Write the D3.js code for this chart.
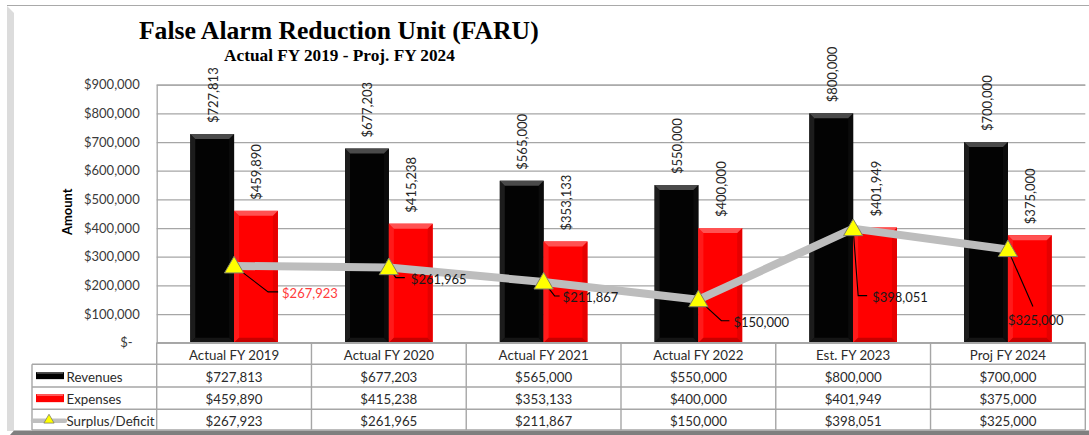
<!DOCTYPE html>
<html>
<head>
<meta charset="utf-8">
<script src="https://cdn.jsdelivr.net/npm/d3@7"></script>
<style>
  html, body { margin: 0; padding: 0; background: #fff; }
  svg { display: block; }
  text { font-family: Lato, "Noto Sans", sans-serif; }
</style>
</head>
<body>
<svg id="chart" width="1089" height="435"></svg>
<script>
// ---------- data ----------
const categories = ["Actual FY 2019", "Actual FY 2020", "Actual FY 2021", "Actual FY 2022", "Est. FY 2023", "Proj FY 2024"];
const revenues = [727813, 677203, 565000, 550000, 800000, 700000];
const expenses = [459890, 415238, 353133, 400000, 401949, 375000];
const surplus = [267923, 261965, 211867, 150000, 398051, 325000];
const seriesNames = ["Revenues", "Expenses", "Surplus/Deficit"];
const yTicks = [0, 100000, 200000, 300000, 400000, 500000, 600000, 700000, 800000, 900000];
const titleText = "False Alarm Reduction Unit (FARU)";
const subtitleText = "Actual FY 2019 - Proj. FY 2024";
const yAxisTitle = "Amount";

// label placement (offsets from the point, px): [label dx, label dy]
const surplusLabelOffsets = [[48, 27], [22, 11], [19, 15], [35, 22], [19, 68], [0, 70]];
// leader elbows: [elbow dx, elbow dy, end dx]
const surplusLeaders = [[34, 26, 44], [7, 10, 16], [11, 14, 16], [23, 21, 31], [5, 67, 14], [25, 57, 25]];
const surplusLabelColors = ["#ff3b3b", "#1a1a1a", "#1a1a1a", "#1a1a1a", "#1a1a1a", "#1a1a1a"];

// ---------- layout ----------
const plotLeft = 156.7, plotRight = 1085.3, plotTop = 84.7, plotBottom = 342.7;
const rowLines = [342.7, 364.3, 387, 409.3, 430];
const legendLeft = 32;
const halfBar = 43.8;

const svg = d3.select("#chart");
const fmt = d3.format("$,");

const x = d3.scaleBand().domain(categories).range([plotLeft, plotRight]).padding(0);
const y = d3.scaleLinear().domain([0, 900000]).range([plotBottom, plotTop]);
const xs = d3.scaleBand().domain(["Revenues", "Expenses"]);

// ---------- outer frame ----------
svg.append("line").attr("x1", 7).attr("x2", 1089).attr("y1", 5.5).attr("y2", 5.5)
  .attr("stroke", "#a9a9a9").attr("stroke-width", 1.2);
svg.append("polygon").attr("points", "7,6 14,13 14,431 7,431").attr("fill", "#dcdcdc");
svg.append("polygon").attr("points", "10,435 14,430.5 1089,430.5 1089,435").attr("fill", "#7f7f7f");

// ---------- title ----------
function fitText(sel, target) {
  const w = sel.node().getComputedTextLength();
  const fs = parseFloat(sel.attr("font-size"));
  sel.attr("font-size", fs * target / w);
}
const t1 = svg.append("text").attr("x", 338.8).attr("y", 39.3).attr("text-anchor", "middle")
  .attr("font-weight", "bold").attr("font-size", 24).attr("fill", "#000")
  .style("font-family", "'Liberation Serif', serif").text(titleText);
fitText(t1, 400);
const t2 = svg.append("text").attr("x", 339.5).attr("y", 61).attr("text-anchor", "middle")
  .attr("font-weight", "bold").attr("font-size", 16).attr("fill", "#000")
  .style("font-family", "'Liberation Serif', serif").text(subtitleText);
fitText(t2, 231);

// ---------- grid + y axis ----------
const yAxis = d3.axisLeft(y).tickValues(yTicks).tickSize(-(plotRight - plotLeft)).tickPadding(17)
  .tickFormat(d => d === 0 ? "$-" : fmt(d));
const gy = svg.append("g").attr("transform", `translate(${plotLeft},0)`).call(yAxis);
gy.select(".domain").attr("stroke", "#a6a6a6").attr("stroke-width", 1.3);
gy.selectAll(".tick line").attr("stroke", "#a6a6a6").attr("stroke-width", 1.3);
gy.selectAll(".tick text").attr("font-size", 13).attr("fill", "#3a3a3a")
  .style("font-family", "Lato, sans-serif")
  .attr("dx", d => d === 0 ? -7 : 0);

svg.append("text").attr("transform", `translate(72,${(plotTop + plotBottom) / 2 - 2}) rotate(-90)`)
  .attr("text-anchor", "middle").attr("font-size", 13).attr("font-weight", "bold").attr("fill", "#000")
  .text(yAxisTitle);

// ---------- bars with bevel ----------
const palettes = {
  Revenues: { main: "#030303", top: "#4a4a4a", left: "#1c1c1c", right: "#0b0b0b", bottom: "#151515" },
  Expenses: { main: "#ff0000", top: "#ff5252", left: "#ff1a1a", right: "#e60000", bottom: "#c80000" }
};
function bevelBar(g, x0, x1, y0, y1, p) {
  const b = 5;
  g.append("rect").attr("x", x0).attr("y", y0).attr("width", x1 - x0).attr("height", y1 - y0).attr("fill", p.main);
  g.append("polygon").attr("points", `${x0},${y0} ${x0 + b},${y0 + b} ${x0 + b},${y1 - b} ${x0},${y1}`).attr("fill", p.left);
  g.append("polygon").attr("points", `${x1},${y0} ${x1 - b},${y0 + b} ${x1 - b},${y1 - b} ${x1},${y1}`).attr("fill", p.right);
  g.append("polygon").attr("points", `${x0},${y1} ${x0 + b},${y1 - b} ${x1 - b},${y1 - b} ${x1},${y1}`).attr("fill", p.bottom);
  g.append("polygon").attr("points", `${x0},${y0} ${x1},${y0} ${x1 - b},${y0 + b} ${x0 + b},${y0 + b}`).attr("fill", p.top);
}
const barData = [];
categories.forEach((c, i) => {
  barData.push({ cat: c, s: "Revenues", v: revenues[i] });
  barData.push({ cat: c, s: "Expenses", v: expenses[i] });
});
const gBars = svg.append("g");
barData.forEach(d => {
  const cx = x(d.cat) + x.bandwidth() / 2;
  xs.range([cx - halfBar, cx + halfBar]);
  const x0 = xs(d.s), x1 = x0 + xs.bandwidth();
  bevelBar(gBars.append("g"), x0, x1, y(d.v), y(0), palettes[d.s]);
});

// ---------- surplus line ----------
const cxOf = i => x(categories[i]) + x.bandwidth() / 2;
const line = d3.line().x((d, i) => cxOf(i)).y(d => y(d));
svg.append("path").datum(surplus).attr("d", line).attr("fill", "none")
  .attr("stroke", "#bdbdbd").attr("stroke-width", 8).attr("stroke-linejoin", "round");

// leaders
surplus.forEach((v, i) => {
  const px = cxOf(i), py = y(v), L = surplusLeaders[i];
  svg.append("path").attr("d", `M${px},${py} L${px + L[0]},${py + L[1]} L${px + L[2]},${py + L[1]}`)
    .attr("fill", "none").attr("stroke", "#000").attr("stroke-width", 1.1);
});

// markers
const tri = d3.symbol().type(d3.symbolTriangle).size(160);
surplus.forEach((v, i) => {
  svg.append("path").attr("d", tri()).attr("transform", `translate(${cxOf(i)},${y(v) + 1.5})`)
    .attr("fill", "#ffff00").attr("stroke", "#7f7f66").attr("stroke-width", 1);
});

// ---------- bar value labels ----------
barData.forEach(d => {
  const cx = x(d.cat) + x.bandwidth() / 2;
  xs.range([cx - halfBar, cx + halfBar]);
  const lx = xs(d.s) + xs.bandwidth() / 2 + 0.5;
  const ly = y(d.v) - 11;
  svg.append("text").attr("transform", `translate(${lx},${ly}) rotate(-90)`)
    .attr("dominant-baseline", "central").attr("font-size", 13).attr("fill", "#262626")
    .text(fmt(d.v));
});

// ---------- surplus labels ----------
surplus.forEach((v, i) => {
  const o = surplusLabelOffsets[i];
  svg.append("text").attr("x", cxOf(i) + o[0]).attr("y", y(v) + o[1])
    .attr("dominant-baseline", "central").attr("font-size", 13).attr("fill", surplusLabelColors[i])
    .text(fmt(v));
});

// ---------- data table ----------
const gT = svg.append("g");
const tStroke = "#a6a6a6";
gT.append("line").attr("x1", plotLeft).attr("x2", plotRight).attr("y1", rowLines[0]).attr("y2", rowLines[0])
  .attr("stroke", tStroke).attr("stroke-width", 1.4);
rowLines.slice(1).forEach(ry => {
  gT.append("line").attr("x1", legendLeft).attr("x2", plotRight).attr("y1", ry).attr("y2", ry)
    .attr("stroke", tStroke).attr("stroke-width", 1.4);
});
gT.append("line").attr("x1", legendLeft).attr("x2", legendLeft).attr("y1", rowLines[1]).attr("y2", rowLines[4])
  .attr("stroke", tStroke).attr("stroke-width", 1.4);
categories.concat([null]).forEach(c => {
  const vx = c ? x(c) : plotRight;
  gT.append("line").attr("x1", vx).attr("x2", vx).attr("y1", rowLines[0]).attr("y2", rowLines[4])
    .attr("stroke", tStroke).attr("stroke-width", 1.4);
});
categories.forEach(c => {
  gT.append("text").attr("x", x(c) + x.bandwidth() / 2).attr("y", (rowLines[0] + rowLines[1]) / 2 + 1)
    .attr("text-anchor", "middle").attr("dominant-baseline", "central")
    .attr("font-size", 13.3).attr("fill", "#2b2b2b").text(c);
});
const tableSeries = [revenues, expenses, surplus];
tableSeries.forEach((arr, r) => {
  const cy = (rowLines[r + 1] + rowLines[r + 2]) / 2 + 1;
  arr.forEach((v, i) => {
    gT.append("text").attr("x", cxOf(i)).attr("y", cy).attr("text-anchor", "middle")
      .attr("dominant-baseline", "central").attr("font-size", 13.3).attr("fill", "#2b2b2b").text(fmt(v));
  });
  gT.append("text").attr("x", 66.5).attr("y", cy).attr("dominant-baseline", "central")
    .attr("font-size", 13.3).attr("fill", "#2b2b2b").text(seriesNames[r]);
});
(function () {
  const r0 = (rowLines[1] + rowLines[2]) / 2, r1 = (rowLines[2] + rowLines[3]) / 2, r2 = (rowLines[3] + rowLines[4]) / 2;
  gT.append("rect").attr("x", 36).attr("y", r0 - 3.5).attr("width", 28).attr("height", 7).attr("fill", "#000");
  gT.append("rect").attr("x", 37).attr("y", r0 - 3.5).attr("width", 26).attr("height", 1.6).attr("fill", "#555");
  gT.append("rect").attr("x", 36).attr("y", r1 - 4).attr("width", 28).attr("height", 8).attr("fill", "#ff0000");
  gT.append("rect").attr("x", 37).attr("y", r1 - 4).attr("width", 26).attr("height", 1.8).attr("fill", "#ff6060");
  gT.append("line").attr("x1", 33).attr("x2", 65).attr("y1", r2 + 1).attr("y2", r2 + 1)
    .attr("stroke", "#bfbfbf").attr("stroke-width", 4.5).attr("stroke-linecap", "round");
  gT.append("path").attr("d", d3.symbol().type(d3.symbolTriangle).size(45)())
    .attr("transform", `translate(49,${r2 + 0.5})`).attr("fill", "#ffff00").attr("stroke", "#7f7f66").attr("stroke-width", 0.8);
})();
</script>
</body>
</html>
